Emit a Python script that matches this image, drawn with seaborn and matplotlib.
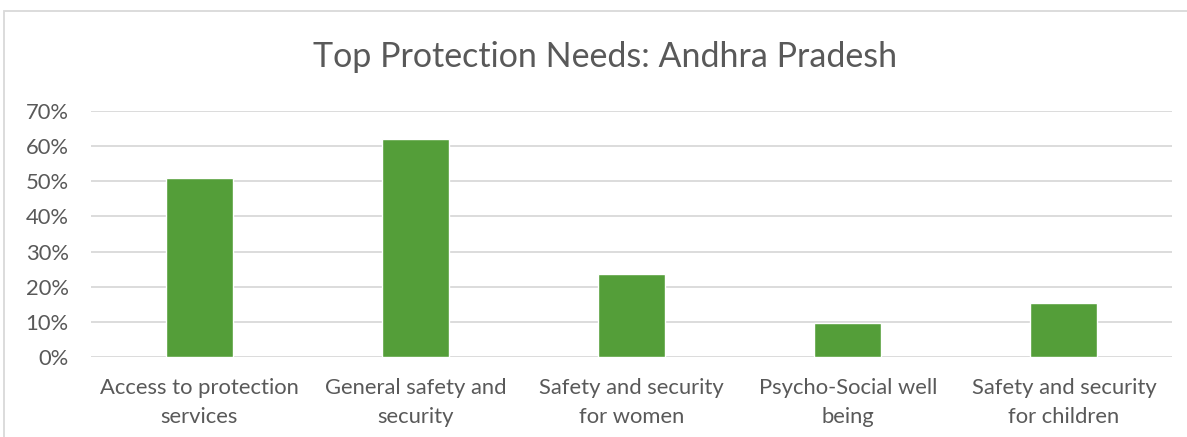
import matplotlib
matplotlib.use("Agg")
import matplotlib.pyplot as plt
import seaborn as sns
import pandas as pd
from matplotlib.ticker import PercentFormatter
from matplotlib.patches import Rectangle

categories = [
    "Access to protection\nservices",
    "General safety and\nsecurity",
    "Safety and security\nfor women",
    "Psycho-Social well\nbeing",
    "Safety and security\nfor children",
]
values = [0.508, 0.621, 0.235, 0.097, 0.153]
y_ticks = [0, 0.1, 0.2, 0.3, 0.4, 0.5, 0.6, 0.7]

sns.set_theme(style="white")
plt.rcParams["font.family"] = ["Lato", "DejaVu Sans"]

text_color = "#595959"
grid_color = "#D9D9D9"
bar_color = "#549E39"

df = pd.DataFrame({"need": categories, "share": values})

fig = plt.figure(figsize=(11.87, 4.37), dpi=100)
ax = fig.add_axes([91 / 1187, 1 - 357 / 437, (1172 - 91) / 1187, (357 - 111) / 437])

sns.barplot(data=df, x="need", y="share", color=bar_color, saturation=1,
            width=0.31, ax=ax, zorder=3)

ax.set_ylim(0, 0.7)
ax.set_yticks(y_ticks)
ax.yaxis.set_major_formatter(PercentFormatter(1.0, decimals=0))
ax.set_xlim(-0.5, len(categories) - 0.5)
ax.grid(axis="y", color=grid_color, linewidth=1.3, zorder=0)
ax.grid(axis="x", visible=False)
for s in ax.spines.values():
    s.set_visible(False)
ax.tick_params(axis="both", length=0, labelsize=15.8, colors=text_color)
ax.tick_params(axis="y", pad=16)
ax.tick_params(axis="x", pad=15)
for lbl in ax.get_xticklabels():
    lbl.set_linespacing(1.6)
ax.set_xlabel("")
ax.set_ylabel("")

fig.text(605 / 1187, 1 - 57 / 437, "Top Protection Needs: Andhra Pradesh",
         ha="center", va="center", fontsize=24.5, color=text_color)

# chart frame
fig.patches.append(Rectangle((4 / 1187, -0.05), 1.2, 1 - 11 / 437 + 0.05,
                             transform=fig.transFigure, fill=False,
                             edgecolor=grid_color, linewidth=1.3))

fig.savefig("out.png", dpi=100)
